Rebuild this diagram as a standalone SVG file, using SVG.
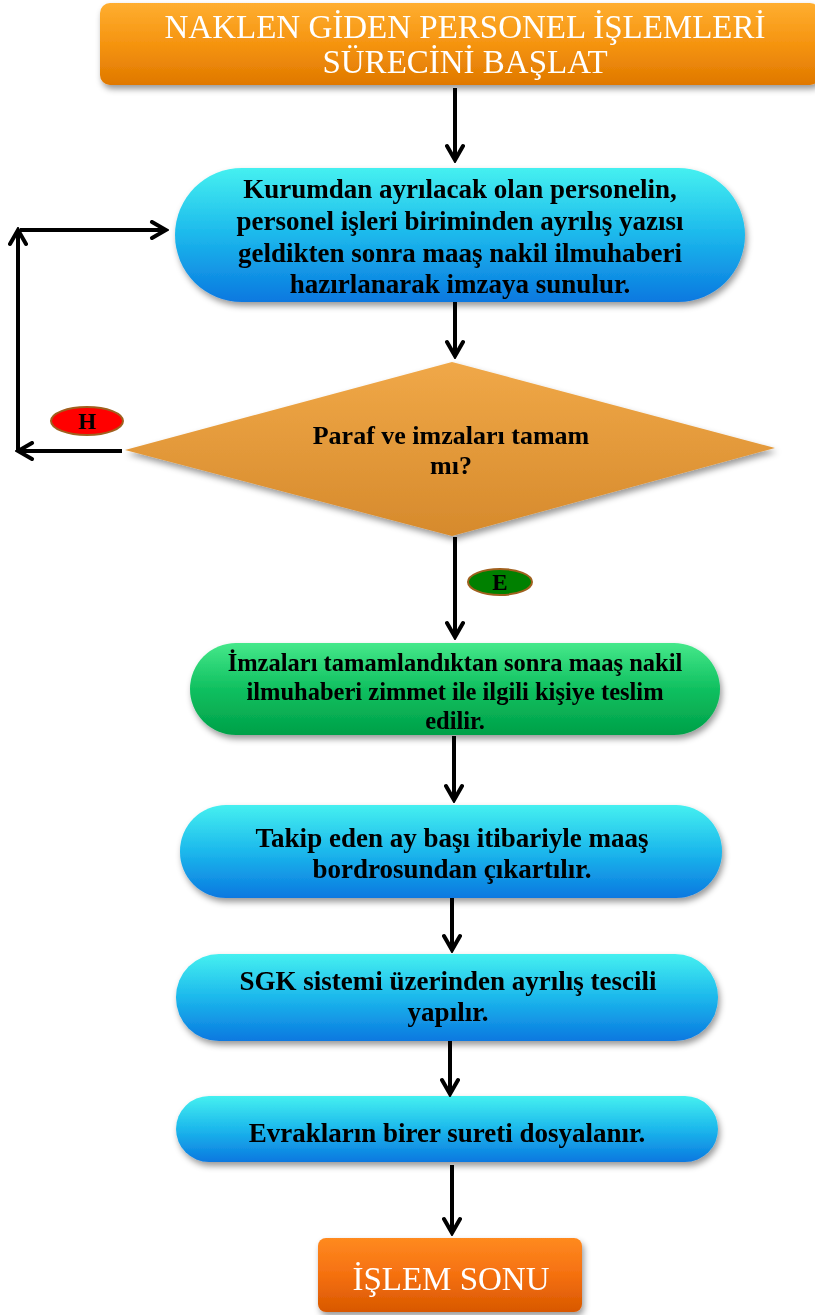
<svg xmlns="http://www.w3.org/2000/svg" width="815" height="1315" viewBox="0 0 815 1315">
<defs>
<linearGradient id="gBlue" x1="0" y1="0" x2="0" y2="1"><stop offset="0" stop-color="#45f0f0"/><stop offset="0.5" stop-color="#1cb8ec"/><stop offset="1" stop-color="#0a78e0"/></linearGradient>
<linearGradient id="gGreen" x1="0" y1="0" x2="0" y2="1"><stop offset="0" stop-color="#45e88a"/><stop offset="0.5" stop-color="#10c060"/><stop offset="1" stop-color="#00a048"/></linearGradient>
<linearGradient id="gOrange" x1="0" y1="0" x2="0" y2="1"><stop offset="0" stop-color="#ffae30"/><stop offset="0.5" stop-color="#f59410"/><stop offset="1" stop-color="#e07800"/></linearGradient>
<linearGradient id="gEnd" x1="0" y1="0" x2="0" y2="1"><stop offset="0" stop-color="#ff8a20"/><stop offset="0.5" stop-color="#f57010"/><stop offset="1" stop-color="#d85800"/></linearGradient>
<linearGradient id="gDia" x1="0" y1="0" x2="0" y2="1"><stop offset="0" stop-color="#f0a848"/><stop offset="1" stop-color="#d68a2c"/></linearGradient>
<filter id="sh" x="-10%" y="-20%" width="120%" height="150%"><feDropShadow dx="2" dy="4" stdDeviation="3" flood-color="#000" flood-opacity="0.4"/></filter>
<marker id="ah" viewBox="0 0 20 20" refX="17" refY="10" markerWidth="20" markerHeight="20" markerUnits="userSpaceOnUse" orient="auto"><path d="M3,2 L17,10 L3,18" fill="none" stroke="#000" stroke-width="4" stroke-linecap="round" stroke-linejoin="miter"/></marker>
<style>
.t{font-family:"Liberation Serif","DejaVu Serif",serif;font-weight:bold;font-size:27px;fill:#000;text-anchor:middle}
.tg{font-size:24.5px}
.td{font-size:26px}
.w{font-family:"Liberation Serif","DejaVu Serif",serif;font-size:33px;fill:#fff;text-anchor:middle}
.c{fill:none;stroke:#000;stroke-width:4;marker-end:url(#ah)}
.lbl{font-family:"Liberation Serif","DejaVu Serif",serif;font-weight:bold;font-size:23px;fill:#000;text-anchor:middle}
</style>
</defs>
<g id="start" filter="url(#sh)">
<rect x="100" y="3" width="720" height="82" rx="10" fill="url(#gOrange)"/>
<text class="w" x="465" y="38">NAKLEN GİDEN PERSONEL İŞLEMLERİ</text>
<text class="w" x="465" y="73">SÜRECİNİ BAŞLAT</text>
</g>
<g id="step1" filter="url(#sh)">
<rect x="175" y="168" width="570" height="134" rx="67" fill="url(#gBlue)"/>
<text class="t" x="460" y="198">Kurumdan ayrılacak olan personelin,</text>
<text class="t" x="460" y="230">personel işleri biriminden ayrılış yazısı</text>
<text class="t" x="460" y="262">geldikten sonra maaş nakil ilmuhaberi</text>
<text class="t" x="460" y="293">hazırlanarak imzaya sunulur.</text>
</g>
<g id="decision" filter="url(#sh)">
<polygon points="125,450 452,362 775,448 452,536" fill="url(#gDia)"/>
<text class="t td" x="451" y="444">Paraf ve imzaları tamam</text>
<text class="t td" x="451" y="474">mı?</text>
</g>
<g id="step2" filter="url(#sh)">
<rect x="190" y="643" width="530" height="92" rx="46" fill="url(#gGreen)"/>
<text class="t tg" x="455" y="671">İmzaları tamamlandıktan sonra maaş nakil</text>
<text class="t tg" x="455" y="700">ilmuhaberi zimmet ile ilgili kişiye teslim</text>
<text class="t tg" x="455" y="729">edilir.</text>
</g>
<g id="step3" filter="url(#sh)">
<rect x="180" y="805" width="542" height="93" rx="46" fill="url(#gBlue)"/>
<text class="t" x="452" y="847">Takip eden ay başı itibariyle maaş</text>
<text class="t" x="452" y="878">bordrosundan çıkartılır.</text>
</g>
<g id="step4" filter="url(#sh)">
<rect x="176" y="954" width="542" height="87" rx="43" fill="url(#gBlue)"/>
<text class="t" x="448" y="990">SGK sistemi üzerinden ayrılış tescili</text>
<text class="t" x="448" y="1021">yapılır.</text>
</g>
<g id="step5" filter="url(#sh)">
<rect x="176" y="1096" width="542" height="66" rx="33" fill="url(#gBlue)"/>
<text class="t" x="447" y="1142">Evrakların birer sureti dosyalanır.</text>
</g>
<g id="end" filter="url(#sh)">
<rect x="318" y="1238" width="264" height="74" rx="8" fill="url(#gEnd)"/>
<text class="w" x="451" y="1290">İŞLEM SONU</text>
</g>
<g id="labelH">
<ellipse cx="87" cy="421" rx="36" ry="14" fill="#ff0000" stroke="#a0601e" stroke-width="2"/>
<text class="lbl" x="87" y="429">H</text>
</g>
<g id="labelE">
<ellipse cx="500" cy="582" rx="32" ry="13" fill="#008000" stroke="#a0601e" stroke-width="2"/>
<text class="lbl" x="500" y="590">E</text>
</g>
<g id="connectors">
<path class="c" d="M455,88 V160"/>
<path class="c" d="M455,302 V356"/>
<path class="c" d="M122,451 H18"/>
<path class="c" d="M18,451 V230"/>
<path class="c" d="M20,230 H166"/>
<path class="c" d="M455,537 V637"/>
<path class="c" d="M454,736 V800"/>
<path class="c" d="M452,898 V950"/>
<path class="c" d="M450,1041 V1094"/>
<path class="c" d="M452,1165 V1233"/>
</g>
</svg>
